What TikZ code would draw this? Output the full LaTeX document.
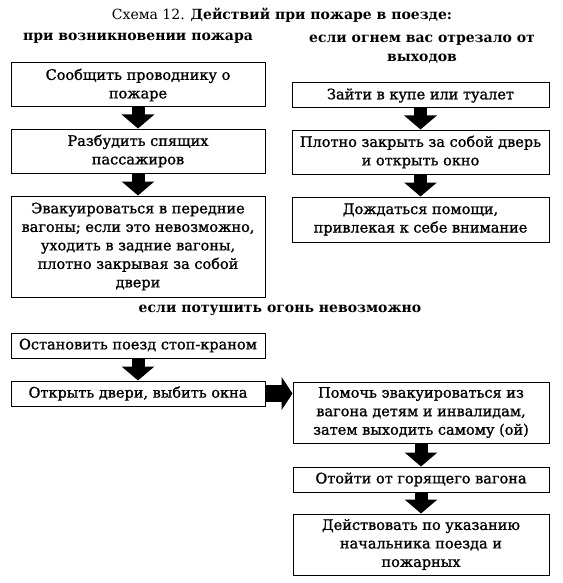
\documentclass[tikz,border=0pt]{standalone}
\usepackage{fontspec}
\setmainfont{DejaVu Serif}
\newfontfamily\boxfont{DejaVu Serif}[FakeBold=1.2]
\usetikzlibrary{arrows.meta}
\begin{document}
\begin{tikzpicture}[x=1pt,y=-1pt,
  box/.style={draw, line width=1pt, align=center, inner sep=0pt,
    font=\boxfont\fontsize{14.5}{18.5}\selectfont},
  head/.style={align=center, inner sep=0pt, font=\fontsize{14}{19}\selectfont\bfseries},
  downarrow/.style={line width=13pt, -{Triangle[width=32pt,length=14pt]}},
  rightarrow/.style={line width=17pt, -{Triangle[width=33pt,length=11pt]}}]
\useasboundingbox (0,0) rectangle (562,583);
\fill[white] (0,0) rectangle (562,583);
% title and headings
\node[inner sep=0pt, font=\fontsize{14}{18}\selectfont] (title) at (282,15) {Схема 12. \textbf{Действий при пожаре в поезде:}};
\node[head] (hl) at (138,38) {при возникновении пожара};
\node[head] (hr) at (422,49) {если огнем вас отрезало от\\выходов};
\node[head] (hm) at (280,310) {если потушить огонь невозможно};
% left column
\node[box, minimum width=254pt, minimum height=44pt] (L1) at (138,85) {Сообщить проводнику о\\пожаре};
\node[box, minimum width=254pt, minimum height=44pt] (L2) at (138,151) {Разбудить спящих\\пассажиров};
\node[box, minimum width=254pt, minimum height=101pt] (L3) at (138,246.5) {Эвакуироваться в передние\\вагоны; если это невозможно,\\уходить в задние вагоны,\\плотно закрывая за собой\\двери};
% right column
\node[box, minimum width=257pt, minimum height=25pt] (R1) at (420.5,95.5) {Зайти в купе или туалет};
\node[box, minimum width=257pt, minimum height=44pt] (R2) at (420.5,152) {Плотно закрыть за собой дверь\\и открыть окно};
\node[box, minimum width=257pt, minimum height=45pt] (R3) at (420.5,219.5) {Дождаться помощи,\\привлекая к себе внимание};
% bottom
\node[box, minimum width=254pt, minimum height=25pt] (B1) at (138,345.5) {Остановить поезд стоп-краном};
\node[box, minimum width=254pt, minimum height=25pt] (B2) at (138,393.5) {Открыть двери, выбить окна};
\node[box, minimum width=256pt, minimum height=61pt] (B3) at (421,412.5) {Помочь эвакуироваться из\\вагона детям и инвалидам,\\затем выходить самому (ой)};
\node[box, minimum width=256pt, minimum height=25pt] (B4) at (421,479.5) {Отойти от горящего вагона};
\node[box, minimum width=256pt, minimum height=61pt] (B5) at (421,544.5) {Действовать по указанию\\начальника поезда и\\пожарных};
% arrows
\draw[downarrow] (L1.south) -- (L2.north);
\draw[downarrow] (L2.south) -- (L3.north);
\draw[downarrow] (R1.south) -- (R2.north);
\draw[downarrow] (R2.south) -- (R3.north);
\draw[downarrow] (B1.south) -- (B2.north);
\draw[rightarrow] (B2.east) -- (B2.east -| B3.west);
\draw[downarrow] (B3.south) -- (B4.north);
\draw[downarrow] (B4.south) -- (B5.north);
\end{tikzpicture}
\end{document}
